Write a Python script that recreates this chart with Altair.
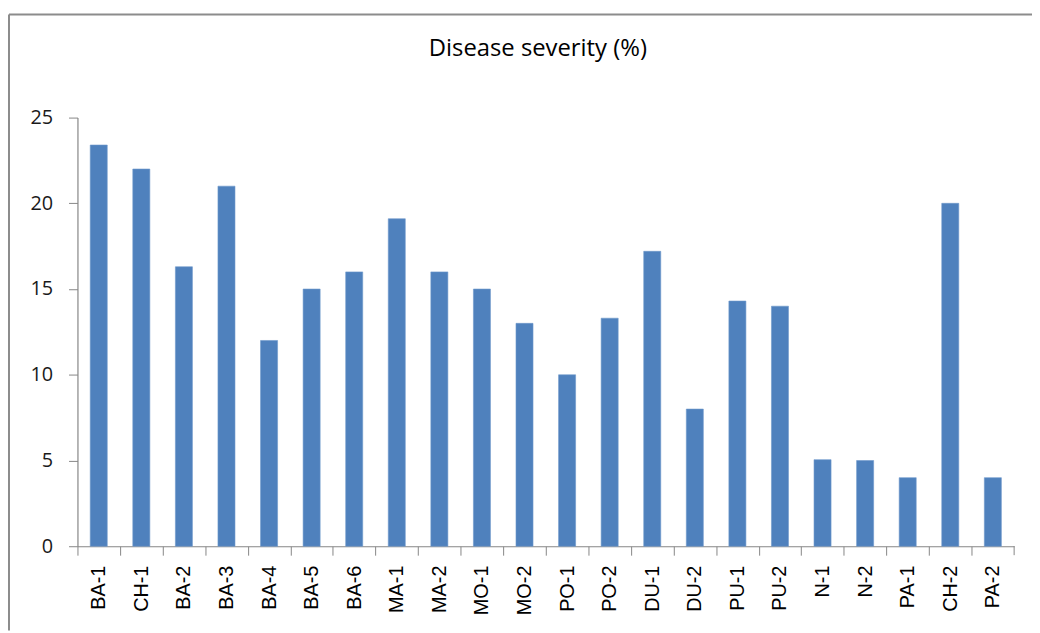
import altair as alt
import pandas as pd

categories = ["BA-1", "CH-1", "BA-2", "BA-3", "BA-4", "BA-5", "BA-6", "MA-1", "MA-2",
              "MO-1", "MO-2", "PO-1", "PO-2", "DU-1", "DU-2", "PU-1", "PU-2", "N-1",
              "N-2", "PA-1", "CH-2", "PA-2"]
severity = [23.4, 22.0, 16.3, 21.0, 12.0, 15.0, 16.0, 19.1, 16.0,
            15.0, 13.0, 10.0, 13.3, 17.2, 8.0, 14.3, 14.0, 5.05,
            5.0, 4.0, 20.0, 4.0]
y_ticks = [0, 5, 10, 15, 20, 25]
title_text = "Disease severity (%)"

df = pd.DataFrame({"isolate": categories, "severity": severity})
one = pd.DataFrame({"t": [title_text]})

W, H = 944, 432
PL, PT, PR, PB = 70, 108, 18, 85
step = W / len(categories)
GRAY = "#868686"

bars = alt.Chart(df).mark_bar(color="#4F81BD", stroke="#6E98CB", strokeWidth=0.6).encode(
    x=alt.X("isolate:N", sort=categories,
            scale=alt.Scale(paddingInner=0.6, paddingOuter=0.3),
            axis=alt.Axis(title=None, labelAngle=-90, labelAlign="right", labelBaseline="middle",
                          labelFont="Liberation Sans", labelFontSize=20, labelColor="#000000",
                          labelPadding=10, labelOffset=step / 2, tickSize=9, tickOffset=-step / 2,
                          tickColor=GRAY, domainColor=GRAY, domainWidth=1.2)),
    y=alt.Y("severity:Q",
            scale=alt.Scale(domain=[0, 25], nice=False),
            axis=alt.Axis(title=None, values=y_ticks, grid=False,
                          labelFont="Open Sans", labelFontSize=20, labelColor="#1a1a1a",
                          labelPadding=16, tickSize=9, tickColor=GRAY,
                          domainColor=GRAY, domainWidth=1.2)),
)

end_tick = alt.Chart(one).mark_rule(color=GRAY, strokeWidth=1).encode(
    x=alt.value(W), y=alt.value(H), y2=alt.value(H + 9)
)

title = alt.Chart(one).mark_text(font="Open Sans", fontSize=24,
                                 color="#000000", align="center", baseline="middle").encode(
    text="t:N", x=alt.value(464), y=alt.value(-69)
)

border_top = alt.Chart(one).mark_rule(color="#8c8c8c", strokeWidth=2).encode(
    x=alt.value(-PL + 1), x2=alt.value(W + PR), y=alt.value(-PT + 4)
)
border_left = alt.Chart(one).mark_rule(color="#8c8c8c", strokeWidth=2).encode(
    x=alt.value(-PL + 1), y=alt.value(-PT + 4), y2=alt.value(H + PB)
)

chart = alt.layer(bars, end_tick, title, border_top, border_left).properties(
    width=W, height=H,
    background="white",
    autosize=alt.AutoSizeParams(type="none"),
    padding={"left": PL, "top": PT, "right": PR, "bottom": PB},
).configure_view(strokeWidth=0, stroke="transparent")

chart.save("out.html", embed_options={"renderer": "svg", "actions": False})
